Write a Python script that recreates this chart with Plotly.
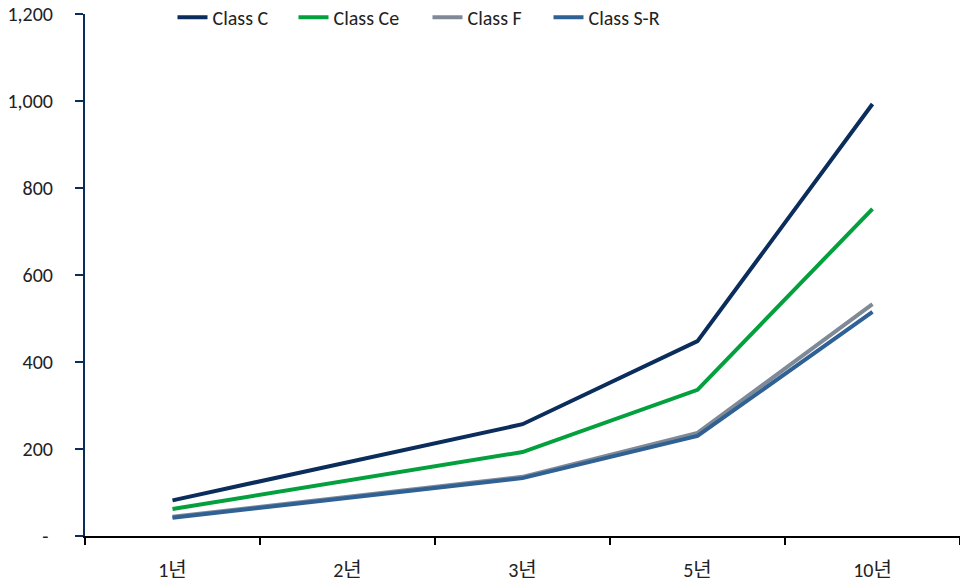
import plotly.graph_objects as go

categories = ["1년", "2년", "3년", "5년", "10년"]
class_c = [82, 169, 257, 448, 993]
class_ce = [62, 128, 193, 336, 752]
class_f = [44, 90, 136, 237, 533]
class_sr = [42, 87, 133, 230, 515]

y_ticks = [0, 200, 400, 600, 800, 1000, 1200]
y_tick_labels = ["-\u00a0", "200", "400", "600", "800", "1,000", "1,200"]

series = [
    ("Class C", class_c, "#0A2D5C", 76),
    ("Class Ce", class_ce, "#04A03E", 89),
    ("Class F", class_f, "#7F8A96", 76),
    ("Class S-R", class_sr, "#2F6195", 80),
]

FONT = "Calibri, Carlito, 'Noto Sans CJK KR', 'Liberation Sans', sans-serif"

fig = go.Figure()
for name, vals, color, lw in series:
    fig.add_trace(go.Scatter(
        x=categories, y=vals, name=name, mode="lines",
        line=dict(color=color, width=4), legendwidth=lw,
    ))

fig.update_layout(
    width=960, height=583,
    margin=dict(l=85, r=0, t=14, b=47, autoexpand=False),
    plot_bgcolor="white", paper_bgcolor="white",
    font=dict(family=FONT, size=20, color="#222222"),
    showlegend=True,
    legend=dict(
        orientation="h", x=0.1, xanchor="left", y=1.031, yanchor="top",
        font=dict(family=FONT, size=20, color="#222222"),
        bgcolor="rgba(0,0,0,0)", itemwidth=30, tracegroupgap=0,
    ),
    xaxis=dict(
        type="category", range=[-0.5, 4.5], automargin=False,
        showline=True, linecolor="black", linewidth=2,
        ticks="outside", tickson="boundaries", ticklen=7, tickwidth=2, tickcolor="black",
        showgrid=False, zeroline=False,
        tickfont=dict(family=FONT, size=20, color="#222222"),
        ticklabelstandoff=15,
    ),
    yaxis=dict(
        range=[0, 1200], tickvals=y_ticks, ticktext=y_tick_labels, automargin=False,
        showline=True, linecolor="#0A2D5C", linewidth=2,
        ticks="outside", ticklen=8, tickwidth=2, tickcolor="#0A2D5C",
        showgrid=False, zeroline=False,
        tickfont=dict(family=FONT, size=20, color="#222222"),
        ticklabelstandoff=18,
    ),
)

fig.write_html("out.html", config={"displayModeBar": False},
               post_script="document.body.style.margin='0';")
